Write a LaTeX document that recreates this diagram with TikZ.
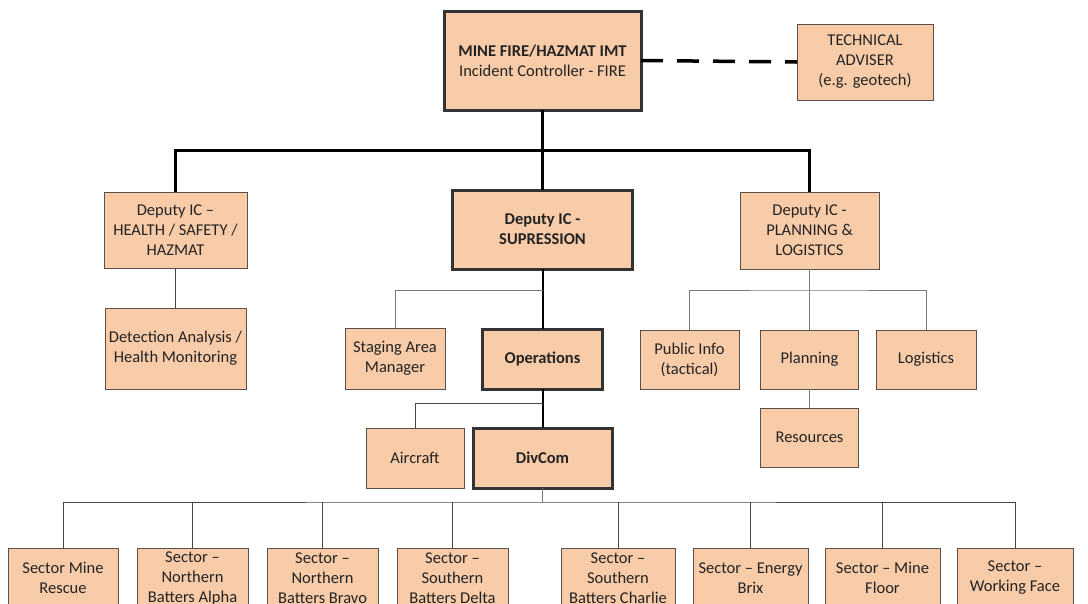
\documentclass[tikz,border=0pt]{standalone}
\usepackage{fontspec}
\setmainfont{Carlito}
\definecolor{peach}{RGB}{248,204,169}
\definecolor{boxedge}{RGB}{90,80,72}
\definecolor{ink}{RGB}{35,35,35}
\definecolor{wire}{RGB}{70,70,70}
\definecolor{lightwire}{RGB}{120,120,120}
\begin{document}
\begin{tikzpicture}[x=1pt,y=-1pt,
  box/.style={draw=boxedge, fill=peach, line width=1pt, align=center,
    inner sep=1pt, outer sep=0pt, text=ink,
    font=\fontsize{16.5}{20}\selectfont},
  keybox/.style={box, draw=black!80, line width=3pt, font=\fontsize{16.5}{20}\selectfont\bfseries},
  sector/.style={box, minimum height=60, anchor=north},
  heavy/.style={draw=black, line width=3pt},
  medium/.style={draw=black, line width=2pt},
  thin/.style={draw=wire, line width=1pt},
  faint/.style={draw=lightwire, line width=1pt}]

\useasboundingbox (0,0) rectangle (1088,603);
\fill[white] (0,0) rectangle (1088,603);
\clip (0,0) rectangle (1088,603);

% top level
\node[keybox, minimum width=197, minimum height=99, font=\fontsize{16.5}{20}\selectfont]
  (ic) at (542.5,60.5) {\textbf{MINE FIRE/HAZMAT IMT}\\Incident Controller - FIRE};
\node[box, minimum width=136, minimum height=76] (tech) at (865,62)
  {TECHNICAL\\ADVISER\\(e.g. geotech)};

% deputies
\node[box, minimum width=143, minimum height=76] (dhs) at (175.5,230)
  {Deputy IC --\\HEALTH / SAFETY /\\HAZMAT};
\node[keybox, minimum width=180, minimum height=79] (dsup) at (542.5,229.5)
  {Deputy IC -\\SUPRESSION};
\node[box, minimum width=139, minimum height=77] (dpl) at (809.5,230.5)
  {Deputy IC -\\PLANNING \&\\LOGISTICS};

% third level
\node[box, minimum width=141, minimum height=81] (det) at (175.5,348.5)
  {Detection Analysis /\\Health Monitoring};
\node[box, minimum width=100, minimum height=61] (stage) at (395,358.5)
  {Staging Area\\Manager};
\node[keybox, minimum width=120, minimum height=60] (ops) at (542.5,359) {Operations};
\node[box, minimum width=99, minimum height=59] (pub) at (689.5,359.5)
  {Public Info\\(tactical)};
\node[box, minimum width=98, minimum height=59] (plan) at (809.5,359.5) {Planning};
\node[box, minimum width=100, minimum height=59] (log) at (926,359.5) {Logistics};
\node[box, minimum width=98, minimum height=59] (res) at (809.5,437.5) {Resources};

% fourth level
\node[box, minimum width=98, minimum height=60] (air) at (415,458) {Aircraft};
\node[keybox, minimum width=139, minimum height=60] (div) at (542.5,458) {DivCom};

% sectors
\node[sector, minimum width=110] (s1) at (63,548) {Sector Mine\\Rescue};
\node[sector, minimum width=111] (s2) at (192.5,548) {Sector --\\Northern\\Batters Alpha};
\node[sector, minimum width=111] (s3) at (322.5,548) {Sector --\\Northern\\Batters Bravo};
\node[sector, minimum width=111] (s4) at (452.5,548) {Sector --\\Southern\\Batters Delta};
\node[sector, minimum width=114] (s5) at (618,548) {Sector --\\Southern\\Batters Charlie};
\node[sector, minimum width=115] (s6) at (750.5,548) {Sector -- Energy\\Brix};
\node[sector, minimum width=115] (s7) at (882.5,548) {Sector -- Mine\\Floor};
\node[sector, minimum width=116] (s8) at (1015,548) {Sector --\\Working Face};

% command line
\coordinate (bar) at (542.5,150);
\draw[heavy] (ic.south) -- (dsup.north);
\draw[heavy] (dhs.north) |- (bar) -| (dpl.north);
\draw[draw=black, line width=3.5pt, dash pattern=on 22pt off 14pt] (ic.east) -- (tech.west);

% health branch
\draw[thin] (dhs.south) -- (det.north);

% suppression branch
\coordinate (supfork) at (542.5,290);
\draw[medium] (dsup.south) -- (ops.north);
\draw[faint] (supfork) -| (stage.north);
\coordinate (opsfork) at (542.5,403);
\draw[medium] (ops.south) -- (div.north);
\draw[thin] (opsfork) -| (air.north);

% planning branch
\coordinate (plfork) at (809.5,290);
\draw[faint] (dpl.south) -- (plfork);
\draw[faint] (pub.north) |- (plfork) -| (log.north);
\draw[faint] (plfork) -- (plan.north);
\draw[faint] (plan.south) -- (res.north);

% sector branch
\coordinate (divfork) at (542.5,502);
\draw[faint] (div.south) -- (divfork);
\draw[thin] (s1.north) |- (divfork) -| (s8.north);
\foreach \s in {s2,s3,s4,s5,s6,s7}
  \draw[thin] (divfork -| \s.north) -- (\s.north);
\end{tikzpicture}
\end{document}
